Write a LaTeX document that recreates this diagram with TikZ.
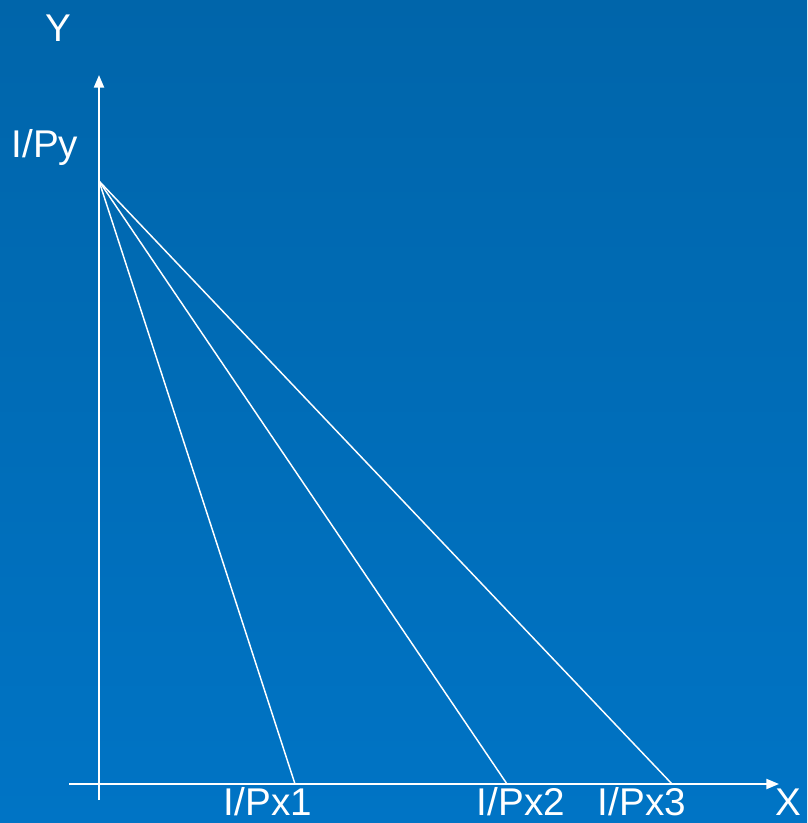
\documentclass[tikz,border=0pt]{standalone}
\usepackage{fontspec}
\setmainfont{Liberation Sans}
\usetikzlibrary{arrows.meta}
\definecolor{bgtop}{RGB}{0,101,170}
\definecolor{bgbot}{RGB}{0,116,197}
\tikzset{
  axisline/.style={white, line width=1.6pt, -{Triangle[length=9.5pt,width=7.5pt]}},
  budget/.style={white, line width=1.1pt},
  lbl/.style={text=white, anchor=base, inner sep=0pt, font=\fontsize{29}{29}\selectfont}
}
\begin{document}
\begin{tikzpicture}[x=0.75pt,y=-0.75pt]
\shade[top color=bgtop, bottom color=bgbot] (0,0) rectangle (807,823);
\useasboundingbox (0,0) rectangle (807,823);
\coordinate (ybot) at (99,800);
\coordinate (ytop) at (99,75);
\coordinate (xleft) at (69,784);
\coordinate (xright) at (779,784);
\coordinate (apex) at (99,181);
\coordinate (p1) at (295,784);
\coordinate (p2) at (507,784);
\coordinate (p3) at (672,784);
\draw[axisline] (ybot) -- (ytop);
\draw[axisline] (xleft) -- (xright);
\draw[budget] (apex) -- (p1);
\draw[budget] (apex) -- (p2);
\draw[budget] (apex) -- (p3);
\node[lbl] (ylab) at (58,42) {Y};
\node[lbl] (iy) at (45,158) {I/Py};
\node[lbl] (ix1) at (268,815) {I/Px1};
\node[lbl] (ix2) at (521,815) {I/Px2};
\node[lbl] (ix3) at (642,815) {I/Px3};
\node[lbl] (xlab) at (788,815) {X};
\end{tikzpicture}
\end{document}
